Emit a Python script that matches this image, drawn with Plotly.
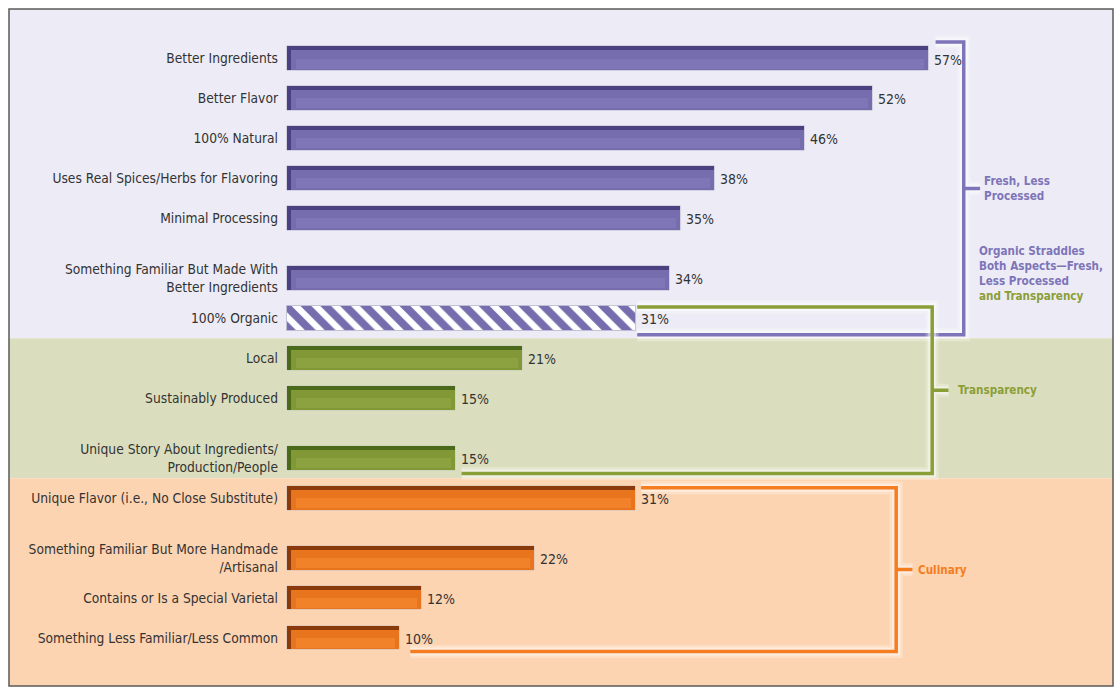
import plotly.graph_objects as go

# ---------------- data ----------------
labels = [
    "Better Ingredients",
    "Better Flavor",
    "100% Natural",
    "Uses Real Spices/Herbs for Flavoring",
    "Minimal Processing",
    "Something Familiar But Made With<br>Better Ingredients",
    "100% Organic",
    "Local",
    "Sustainably Produced",
    "Unique Story About Ingredients/<br>Production/People",
    "Unique Flavor (i.e., No Close Substitute)",
    "Something Familiar But More Handmade<br>/Artisanal",
    "Contains or Is a Special Varietal",
    "Something Less Familiar/Less Common",
]
values = [57, 52, 46, 38, 35, 34, 31, 21, 15, 15, 31, 22, 12, 10]
groups = ["Fresh"] * 6 + ["Organic"] + ["Transparency"] * 3 + ["Culinary"] * 4

bracket_names = {
    "Fresh": "Fresh, Less<br>Processed",
    "Transparency": "Transparency",
    "Culinary": "Culinary",
}
note_lines = ["Organic Straddles", "Both Aspects\u2014Fresh,", "Less Processed", "and Transparency"]

# ---------------- styles ----------------
FONT = "DejaVu Sans Condensed, Liberation Sans Narrow, Arial Narrow, sans-serif"
TEXT = "#333333"
PURPLE = dict(dark="#4B4080", main="#766DAE", hi="#7E76B7", line="#7E74B8")
GREEN = dict(dark="#4B691A", main="#829836", hi="#8CA140", line="#8A9E38")
ORANGE = dict(dark="#8A3A0A", main="#E8741E", hi="#F2822A", line="#F47D20")
palette = {"Fresh": PURPLE, "Organic": PURPLE, "Transparency": GREEN, "Culinary": ORANGE}
bands = {"Fresh": "#EDECF6", "Transparency": "#DBDEBE", "Culinary": "#FDD4B2"}

W, H = 1120, 694
ML, MR, MT, MB = 9, 7, 9, 8
PX_PER_PCT = 11.26
BAR_X0_PX = 287
PX_PER_UNIT = 39.97
FIRST_BAR_PX = 58.5

# vertical positions: one step per row, extra half step for two-line labels
pos = []
p = 0.0
for i, lab in enumerate(labels):
    if i > 0:
        p += 1.0 + 0.5 * lab.count("<br>")
    pos.append(p)

plot_w = W - ML - MR
plot_h = H - MT - MB
x_min = -(BAR_X0_PX - ML) / PX_PER_PCT
x_max = (W - MR - BAR_X0_PX) / PX_PER_PCT
y_top = -(FIRST_BAR_PX - MT) / PX_PER_UNIT
y_bot = (H - MB - FIRST_BAR_PX) / PX_PER_UNIT

fig = go.Figure()

BW = 0.62
px_u = 1.0 / PX_PER_UNIT
pct = 1.0 / PX_PER_PCT

for g in ["Fresh", "Transparency", "Culinary"]:
    idx = [i for i, gg in enumerate(groups) if gg == g]
    c = palette[g]
    ys = [pos[i] for i in idx]
    xs = [values[i] for i in idx]
    # dark body
    fig.add_trace(go.Bar(orientation="h", y=ys, x=xs, base=0, width=BW, offset=-BW / 2,
                         marker=dict(color=c["dark"], line=dict(color="rgba(255,255,255,0.55)", width=1)),
                         hoverinfo="skip"))
    # main body
    fig.add_trace(go.Bar(orientation="h", y=ys, x=[v - 5 * pct for v in xs], base=4 * pct,
                         width=BW - 5 * px_u, offset=-BW / 2 + 4 * px_u,
                         marker=dict(color=c["main"], line=dict(width=0)), hoverinfo="skip"))
    # highlight
    fig.add_trace(go.Bar(orientation="h", y=ys, x=[v - 14 * pct for v in xs], base=9 * pct,
                         width=10 * px_u, offset=0 * px_u,
                         marker=dict(color=c["hi"], line=dict(width=0)), hoverinfo="skip"))

# hatched organic bar
oi = [i for i, gg in enumerate(groups) if gg == "Organic"]
fig.add_trace(go.Bar(orientation="h", y=[pos[i] for i in oi], x=[values[i] for i in oi], base=0,
                     width=BW, offset=-BW / 2,
                     marker=dict(color="white",
                                 line=dict(color="rgba(190,190,210,0.9)", width=1),
                                 pattern=dict(shape="\\", fgcolor=PURPLE["main"], bgcolor="white",
                                              fgopacity=1, size=14, solidity=0.55, fillmode="replace")),
                     hoverinfo="skip"))

shapes = []
# background bands
order = ["Fresh", "Transparency", "Culinary"]
band_group = ["Fresh" if g == "Organic" else g for g in groups]
bounds = [y_top]
for i in range(1, len(labels)):
    if band_group[i] != band_group[i - 1]:
        bounds.append((pos[i] + pos[i - 1]) / 2)
bounds.append(y_bot)
for k, g in enumerate(order):
    shapes.append(dict(type="rect", xref="paper", yref="y", x0=0, x1=1, y0=bounds[k], y1=bounds[k + 1],
                       fillcolor=bands[g], line=dict(width=0), layer="below"))

# brackets
def bracket(first, last, xv, color, top_gap, bot_gap, y_top_off, y_bot_off):
    x0 = values[first] + top_gap
    y0 = pos[first] + y_top_off
    x1 = values[last] + bot_gap
    y1 = pos[last] + y_bot_off
    ym = (y0 + y1) / 2
    path = f"M {x0},{y0} L {xv},{y0} L {xv},{y1} L {x1},{y1} M {xv},{ym} L {xv + 1.45},{ym}"
    out = []
    for w, a in [(13, 0.25), (8, 0.45)]:
        out.append(dict(type="path", path=path, xref="x", yref="y",
                        line=dict(color=f"rgba(255,255,255,{a})", width=w), layer="above"))
    out.append(dict(type="path", path=path, xref="x", yref="y",
                    line=dict(color=color, width=3.5), layer="above"))
    return out, ym

fresh_idx = [i for i, g in enumerate(groups) if g in ("Fresh", "Organic")]
tr_idx = [i for i, g in enumerate(groups) if g in ("Organic", "Transparency")]
cu_idx = [i for i, g in enumerate(groups) if g == "Culinary"]

s1, ym1 = bracket(fresh_idx[0], fresh_idx[-1], 60.1, PURPLE["line"], 0.6, 0.1, -BW / 2 - 4 * px_u, BW / 2 + 4 * px_u)
s2, ym2 = bracket(tr_idx[0], tr_idx[-1], 57.3, GREEN["line"], 0.1, 0.5, -BW / 2 + 1 * px_u, BW / 2 + 3 * px_u)
s3, ym3 = bracket(cu_idx[0], cu_idx[-1], 54.1, ORANGE["line"], 0.45, 0.95, -BW / 2 + 2 * px_u, BW / 2 + 1 * px_u)
shapes += s1 + s2 + s3

# frame
shapes.append(dict(type="rect", xref="paper", yref="paper", x0=0, x1=1, y0=0, y1=1,
                   line=dict(color="#5A5A5A", width=1.5), layer="above"))

# value labels
annotations = []
for v, y in zip(values, pos):
    annotations.append(dict(x=v, y=y, xref="x", yref="y", text=f"{v}%", showarrow=False,
                            xanchor="left", yanchor="middle", xshift=3, yshift=-1,
                            font=dict(family=FONT, size=14, color=TEXT)))

BOLD = dict(family=FONT, size=11.6, weight="bold")
annotations += [
    dict(x=61.75, y=ym1, xref="x", yref="y", text=bracket_names["Fresh"], showarrow=False,
         xanchor="left", align="left", font=dict(**BOLD, color=PURPLE["line"])),
    dict(x=59.4, y=ym2, xref="x", yref="y", text=bracket_names["Transparency"], showarrow=False,
         xanchor="left", align="left", font=dict(**BOLD, color=GREEN["line"])),
    dict(x=55.9, y=ym3, xref="x", yref="y", text=bracket_names["Culinary"], showarrow=False,
         xanchor="left", align="left", font=dict(**BOLD, color=ORANGE["line"])),
    dict(x=61.25, y=pos[5] - 0.12, xref="x", yref="y",
         text="<br>".join(note_lines[:3]) + f"<br><span style='color:{GREEN['line']}'>{note_lines[3]}</span>",
         showarrow=False, xanchor="left", align="left", font=dict(**BOLD, color=PURPLE["line"])),
]

fig.update_layout(
    width=W, height=H,
    margin=dict(l=ML, r=MR, t=MT, b=MB, pad=0, autoexpand=False),
    paper_bgcolor="white", plot_bgcolor="white",
    barmode="overlay", bargap=0,
    showlegend=False,
    shapes=shapes, annotations=annotations,
    xaxis=dict(range=[x_min, x_max], visible=False, fixedrange=True, automargin=False),
    yaxis=dict(range=[y_bot, y_top], tickmode="array", tickvals=pos, ticktext=labels,
               anchor="free", position=(BAR_X0_PX - ML) / plot_w, side="left",
               showgrid=False, zeroline=False, showline=False, ticks="",
               ticklabelstandoff=9, automargin=False,
               tickfont=dict(family=FONT, size=13.7, color=TEXT), fixedrange=True),
)

fig.write_html("out.html", config={"displayModeBar": False},
               post_script="document.body.style.margin='0';document.body.style.overflow='hidden';")
